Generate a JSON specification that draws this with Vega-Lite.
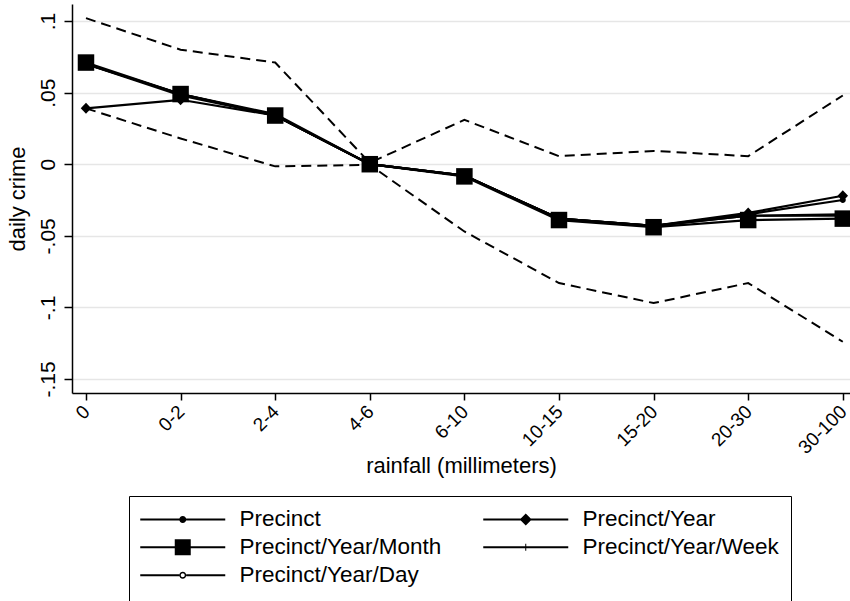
{
  "$schema": "https://vega.github.io/schema/vega-lite/v6.json",
  "autosize": {"type": "none"},
  "width": 778,
  "height": 389,
  "padding": {"left": 72, "top": 4, "right": 0, "bottom": 208},
  "background": "white",
  "config": {
    "font": "Liberation Sans",
    "view": {"stroke": null},
    "axis": {"labelFont": "Liberation Sans", "titleFont": "Liberation Sans", "labelColor": "black", "titleColor": "black", "titleFontWeight": "normal", "domainColor": "black", "tickColor": "black", "domainWidth": 1.5, "tickWidth": 1.5, "gridColor": "#e6e6e6", "gridWidth": 1.5}
  },
  "datasets": {
    "series": [
      {"bin": "0", "series": "Precinct", "value": 0.070},
      {"bin": "0-2", "series": "Precinct", "value": 0.049},
      {"bin": "2-4", "series": "Precinct", "value": 0.034},
      {"bin": "4-6", "series": "Precinct", "value": 0.0},
      {"bin": "6-10", "series": "Precinct", "value": -0.008},
      {"bin": "10-15", "series": "Precinct", "value": -0.038},
      {"bin": "15-20", "series": "Precinct", "value": -0.043},
      {"bin": "20-30", "series": "Precinct", "value": -0.035},
      {"bin": "30-100", "series": "Precinct", "value": -0.025},
      {"bin": "0", "series": "Precinct/Year", "value": 0.039},
      {"bin": "0-2", "series": "Precinct/Year", "value": 0.045},
      {"bin": "2-4", "series": "Precinct/Year", "value": 0.034},
      {"bin": "4-6", "series": "Precinct/Year", "value": 0.0},
      {"bin": "6-10", "series": "Precinct/Year", "value": -0.008},
      {"bin": "10-15", "series": "Precinct/Year", "value": -0.038},
      {"bin": "15-20", "series": "Precinct/Year", "value": -0.043},
      {"bin": "20-30", "series": "Precinct/Year", "value": -0.034},
      {"bin": "30-100", "series": "Precinct/Year", "value": -0.022},
      {"bin": "0", "series": "Precinct/Year/Month", "value": 0.071},
      {"bin": "0-2", "series": "Precinct/Year/Month", "value": 0.049},
      {"bin": "2-4", "series": "Precinct/Year/Month", "value": 0.034},
      {"bin": "4-6", "series": "Precinct/Year/Month", "value": 0.0},
      {"bin": "6-10", "series": "Precinct/Year/Month", "value": -0.0085},
      {"bin": "10-15", "series": "Precinct/Year/Month", "value": -0.039},
      {"bin": "15-20", "series": "Precinct/Year/Month", "value": -0.044},
      {"bin": "20-30", "series": "Precinct/Year/Month", "value": -0.039},
      {"bin": "30-100", "series": "Precinct/Year/Month", "value": -0.038},
      {"bin": "0", "series": "Precinct/Year/Week", "value": 0.070},
      {"bin": "0-2", "series": "Precinct/Year/Week", "value": 0.049},
      {"bin": "2-4", "series": "Precinct/Year/Week", "value": 0.035},
      {"bin": "4-6", "series": "Precinct/Year/Week", "value": 0.0},
      {"bin": "6-10", "series": "Precinct/Year/Week", "value": -0.008},
      {"bin": "10-15", "series": "Precinct/Year/Week", "value": -0.038},
      {"bin": "15-20", "series": "Precinct/Year/Week", "value": -0.043},
      {"bin": "20-30", "series": "Precinct/Year/Week", "value": -0.036},
      {"bin": "30-100", "series": "Precinct/Year/Week", "value": -0.036},
      {"bin": "0", "series": "Precinct/Year/Day", "value": 0.070},
      {"bin": "0-2", "series": "Precinct/Year/Day", "value": 0.048},
      {"bin": "2-4", "series": "Precinct/Year/Day", "value": 0.034},
      {"bin": "4-6", "series": "Precinct/Year/Day", "value": 0.0},
      {"bin": "6-10", "series": "Precinct/Year/Day", "value": -0.008},
      {"bin": "10-15", "series": "Precinct/Year/Day", "value": -0.038},
      {"bin": "15-20", "series": "Precinct/Year/Day", "value": -0.043},
      {"bin": "20-30", "series": "Precinct/Year/Day", "value": -0.036},
      {"bin": "30-100", "series": "Precinct/Year/Day", "value": -0.035}
    ],
    "ci": [
      {"bin": "0", "bound": "upper", "value": 0.102},
      {"bin": "0-2", "bound": "upper", "value": 0.080},
      {"bin": "2-4", "bound": "upper", "value": 0.071},
      {"bin": "4-6", "bound": "upper", "value": 0.001},
      {"bin": "6-10", "bound": "upper", "value": 0.031},
      {"bin": "10-15", "bound": "upper", "value": 0.0056},
      {"bin": "15-20", "bound": "upper", "value": 0.0093},
      {"bin": "20-30", "bound": "upper", "value": 0.0056},
      {"bin": "30-100", "bound": "upper", "value": 0.048},
      {"bin": "0", "bound": "lower", "value": 0.039},
      {"bin": "0-2", "bound": "lower", "value": 0.018},
      {"bin": "2-4", "bound": "lower", "value": -0.0015},
      {"bin": "4-6", "bound": "lower", "value": -0.0005},
      {"bin": "6-10", "bound": "lower", "value": -0.047},
      {"bin": "10-15", "bound": "lower", "value": -0.083},
      {"bin": "15-20", "bound": "lower", "value": -0.097},
      {"bin": "20-30", "bound": "lower", "value": -0.083},
      {"bin": "30-100", "bound": "lower", "value": -0.124}
    ]
  },
  "encoding": {
    "x": {
      "field": "bin", "type": "ordinal",
      "scale": {"type": "point", "domain": ["0", "0-2", "2-4", "4-6", "6-10", "10-15", "15-20", "20-30", "30-100"], "padding": 0.112, "align": 0.66},
      "axis": {"title": "rainfall (millimeters)", "titleFontSize": 22, "titlePadding": -2, "labelAngle": -45, "labelFontSize": 19, "labelPadding": 2, "labelOffset": -6, "tickSize": 7, "grid": false}
    },
    "y": {
      "field": "value", "type": "quantitative",
      "scale": {"domain": [-0.1598, 0.1119], "nice": false, "zero": false},
      "axis": {"title": "daily crime", "titleFontSize": 22, "titlePadding": 8, "values": [-0.15, -0.1, -0.05, 0, 0.05, 0.1], "labelExpr": "datum.value == 0 ? '0' : (datum.value < 0 ? '-' + replace(format(-datum.value, '~g'), '0.', '.') : replace(format(datum.value, '~g'), '0.', '.'))", "labelAngle": 270, "labelAlign": "center", "labelBaseline": "bottom", "labelFontSize": 21, "labelPadding": 6, "tickSize": 8, "grid": true}
    }
  },
  "layer": [
    {
      "data": {"name": "ci"},
      "mark": {"type": "line", "color": "black", "strokeWidth": 2, "strokeDash": [10, 6]},
      "encoding": {"detail": {"field": "bound"}}
    },
    {
      "data": {"name": "series"},
      "mark": {"type": "line", "color": "black", "strokeWidth": 2.2},
      "encoding": {"detail": {"field": "series"}}
    },
    {
      "data": {"name": "series"},
      "mark": {"type": "point", "filled": true, "color": "black", "opacity": 1, "size": 100, "strokeWidth": 0},
      "encoding": {
        "shape": {
          "field": "series", "type": "nominal",
          "scale": {
            "domain": ["Precinct", "Precinct/Year", "Precinct/Year/Month", "Precinct/Year/Week", "Precinct/Year/Day"],
            "range": [
              "M0.6,0A0.6,0.6 0 1,1 -0.6,0A0.6,0.6 0 1,1 0.6,0Z",
              "M0,-1.1L1.05,0L0,1.1L-1.05,0Z",
              "M-1.65,-1.65H1.65V1.65H-1.65Z",
              "M-0.8,-0.1H0.8V0.1H-0.8Z M-0.1,-0.8H0.1V0.8H-0.1Z",
              "M0.6,0A0.6,0.6 0 1,1 -0.6,0A0.6,0.6 0 1,1 0.6,0Z M0.4,0A0.4,0.4 0 1,0 -0.4,0A0.4,0.4 0 1,0 0.4,0Z"
            ]
          },
          "legend": null
        }
      }
    },
    {
      "data": {"name": "series"},
      "mark": {"type": "point", "filled": true, "color": "black", "opacity": 0, "size": 400, "strokeWidth": 0},
      "encoding": {
        "shape": {
          "field": "series", "type": "nominal",
          "scale": {
            "domain": ["Precinct", "Precinct/Year", "Precinct/Year/Month", "Precinct/Year/Week", "Precinct/Year/Day"],
            "range": [
              "M-1.2,-0.1H7.3V0.1H-1.2Z M3.4,0A0.35,0.35 0 1,1 2.7,0A0.35,0.35 0 1,1 3.4,0Z",
              "M-1.2,-0.1H7.3V0.1H-1.2Z M3.05,-0.6L3.65,0L3.05,0.6L2.45,0Z",
              "M-1.2,-0.1H7.3V0.1H-1.2Z M2.25,-0.8H3.85V0.8H2.25Z",
              "M-1.2,-0.1H7.3V0.1H-1.2Z M3.0,-0.35H3.1V0.35H3.0Z",
              "M-1.2,-0.1H2.7V0.1H-1.2Z M3.4,-0.1H7.3V0.1H3.4Z M3.4,0A0.35,0.35 0 1,1 2.7,0A0.35,0.35 0 1,1 3.4,0Z M3.25,0A0.2,0.2 0 1,0 2.85,0A0.2,0.2 0 1,0 3.25,0Z"
            ]
          },
          "legend": {
            "title": " ",
            "titleOrient": "bottom",
            "titleFontSize": 22,
            "titlePadding": 2,
            "orient": "none",
            "direction": "horizontal",
            "legendX": 57,
            "legendY": 492,
            "columns": 2,
            "columnPadding": 41,
            "rowPadding": 5,
            "padding": 12,
            "strokeColor": "black",
            "labelFont": "Liberation Sans",
            "labelFontSize": 22.5,
            "labelColor": "black",
            "labelOffset": 76,
            "labelLimit": 400,
            "symbolSize": 400,
            "symbolFillColor": "black",
            "symbolStrokeColor": "black",
            "symbolStrokeWidth": 0,
            "symbolOpacity": 1
          }
        }
      }
    }
  ],
  "resolve": {"scale": {"shape": "independent"}, "legend": {"shape": "independent"}}
}
